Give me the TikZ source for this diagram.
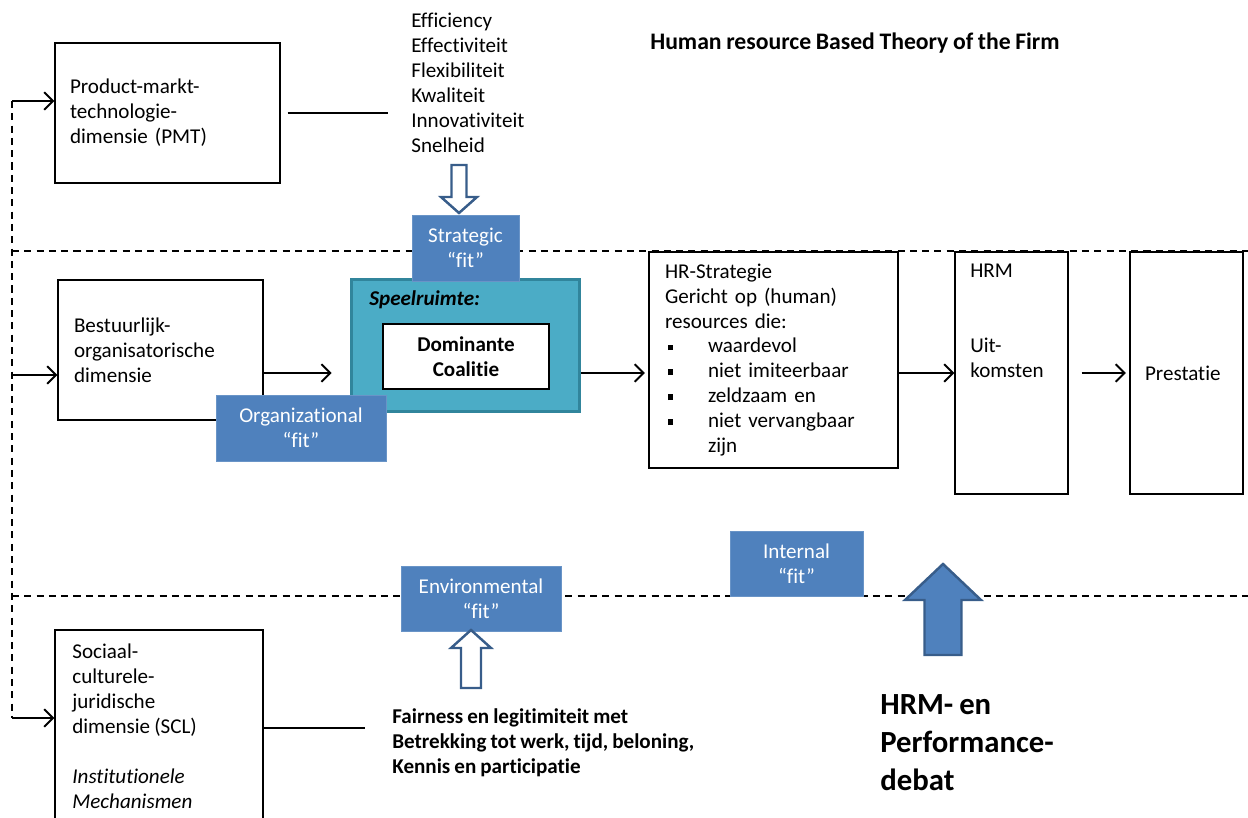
\documentclass[tikz,border=0pt]{standalone}
\usepackage{fontspec}
\setmainfont{Carlito}[Ligatures={TeX,NoCommon},WordSpace=0.85]
\usetikzlibrary{arrows.meta,calc}

\definecolor{fitblue}{HTML}{4F81BD}
\definecolor{fitline}{HTML}{385D8A}
\definecolor{speelblue}{HTML}{4BACC6}
\definecolor{speelline}{HTML}{31859C}

\newcommand{\dimfont}{\fontsize{12}{14.2}\selectfont}
\newcommand{\hrbul}{\hspace*{0.06cm}\makebox[0.8cm][l]{\rule[1.6pt]{2.6pt}{3.2pt}}}

\begin{document}
\begin{tikzpicture}[x=0.02cm,y=-0.02cm,>={Straight Barb[length=5pt,width=10pt]},
  font=\dimfont,
  dim node/.style={draw,line width=0.8pt,align=left,inner xsep=0.3cm,inner ysep=0pt},
  fit node/.style={fill=fitblue,draw=fitblue!85!white,text=white,align=center,inner sep=0pt,minimum height=1.3cm},
  flow/.style={->,line width=1.1pt},
  plain/.style={-,line width=0.7pt},
  zone/.style={dash pattern=on 4pt off 3pt,line width=0.75pt},
  hollow/.style={draw=fitline,line width=1.4pt,fill=white,line join=miter}]

\useasboundingbox (0,0) rectangle (1248,818);
\clip (0,0) rectangle (1248,818);

% dashed zones
\coordinate (L1) at (12,101);
\coordinate (L2) at (12,375);
\coordinate (L3) at (12,718);
\coordinate (M) at (0,373);
\coordinate (S) at (0,728);
\draw[zone] (L1) -- (L3);
\draw[zone] (12,251) -- (1248,251);
\draw[zone] (12,596) -- (1248,596);

% top row
\node[dim node,text width=3.9cm,minimum height=2.8cm](PMT) at (167.5,113) {Product-markt-\\technologie-\\dimensie (PMT)};
\node[anchor=west,align=left,inner sep=0pt](Crit) at (411,82.5) {Efficiency\\Effectiviteit\\Flexibiliteit\\Kwaliteit\\Innovativiteit\\Snelheid};
\node[font=\fontsize{13.5}{16}\selectfont\bfseries](Title) at (855,43) {Human resource Based Theory of the Firm};

% middle row
\node[dim node,text width=3.46cm,minimum height=2.8cm,inner xsep=0.32cm](BO) at (160.5,350) {Bestuurlijk-\\organisatorische\\dimensie};
\node[draw=speelline,line width=1.7pt,fill=speelblue,minimum width=4.58cm,minimum height=2.66cm](Speel) at (465.5,345.5) {};
\node[anchor=west,inner sep=0pt,font=\dimfont\bfseries\itshape](SpeelT) at (369,300) {Speelruimte:};
\node[draw,line width=0.8pt,fill=white,minimum width=3.32cm,minimum height=1.3cm,align=center,font=\dimfont\bfseries](DC) at (466,356.5) {Dominante\\Coalitie};
\node[dim node,text width=4.34cm,minimum height=4.32cm,inner xsep=0.32cm](HRS) at (773.5,360) {HR-Strategie\\Gericht op (human)\\resources die:\\\hrbul waardevol\\\hrbul niet imiteerbaar\\\hrbul zeldzaam en\\\hrbul niet vervangbaar\\\hspace*{0.86cm}zijn};
\node[draw,line width=0.8pt,minimum width=2.26cm,minimum height=4.84cm](HRM) at (1011.5,373) {};
\node[anchor=north west,align=left,inner sep=0pt](HRMT) at (970,264) {HRM\\[28.4pt]Uit-\\komsten};
\node[dim node,text width=1.66cm,minimum height=4.84cm](PR) at (1186.5,373) {Prestatie};

% bottom row
\node[draw,line width=0.8pt,minimum width=4.16cm,minimum height=4.4cm](SCL) at (159,740) {};
\node[anchor=north west,align=left,inner sep=0pt](SCLT) at (72,644) {Sociaal-\\culturele-\\juridische\\dimensie (SCL)\\[14.2pt]\textit{Institutionele}\\\textit{Mechanismen}};
\node[anchor=west,align=left,inner sep=0pt,font=\dimfont\bfseries](Fair) at (392,743) {Fairness en legitimiteit met\\Betrekking tot werk, tijd, beloning,\\Kennis en participatie};
\node[anchor=west,align=left,inner sep=0pt,font=\fontsize{17.5}{21.6}\selectfont\bfseries](Debat) at (880,743) {HRM- en\\Performance-\\debat};

% fits
\node[fit node,minimum width=2.14cm,minimum height=1.32cm](SF) at (465.5,248) {Strategic\\``fit''};
\node[fit node,minimum width=3.4cm,minimum height=1.32cm](OF) at (301,428) {Organizational\\``fit''};
\node[fit node,minimum width=3.2cm](EF) at (481,599) {Environmental\\``fit''};
\node[fit node,minimum width=2.66cm](IF) at (796.5,564) {Internal\\``fit''};

% block arrows
\draw[hollow] (451.5,165) -- (466.5,165) -- (466.5,197) -- (477,197) -- (459,213) -- (441,197) -- (451.5,197) -- cycle;
\draw[hollow] (461,688) -- (481,688) -- (481,648) -- (491,648) -- (471,630) -- (451,648) -- (461,648) -- cycle;
\draw[hollow,fill=fitblue] (924.5,655) -- (961.5,655) -- (961.5,600) -- (981,600) -- (943,564) -- (905,600) -- (924.5,600) -- cycle;

\path
(L1) edge[flow] (PMT.west |- L1)
(L2) edge[flow] (BO.west |- L2)
(L3) edge[flow] (SCL.west |- L3)
(BO.east |- M) edge[flow,shorten >=0.36cm] (Speel.west |- M)
(Speel.east |- M) edge[flow,shorten >=2pt] (HRS.west |- M)
(HRS.east |- M) edge[flow] (HRM.west |- M)
(HRM.east |- M) edge[flow,shorten <=0.26cm,shorten >=2pt] (PR.west |- M)
(PMT.east) edge[plain,shorten <=0.14cm,shorten >=0.46cm] (PMT.east -| Crit.west)
(SCL.east |- S) edge[plain,shorten >=0.54cm] (Fair.west |- S);

\end{tikzpicture}
\end{document}
